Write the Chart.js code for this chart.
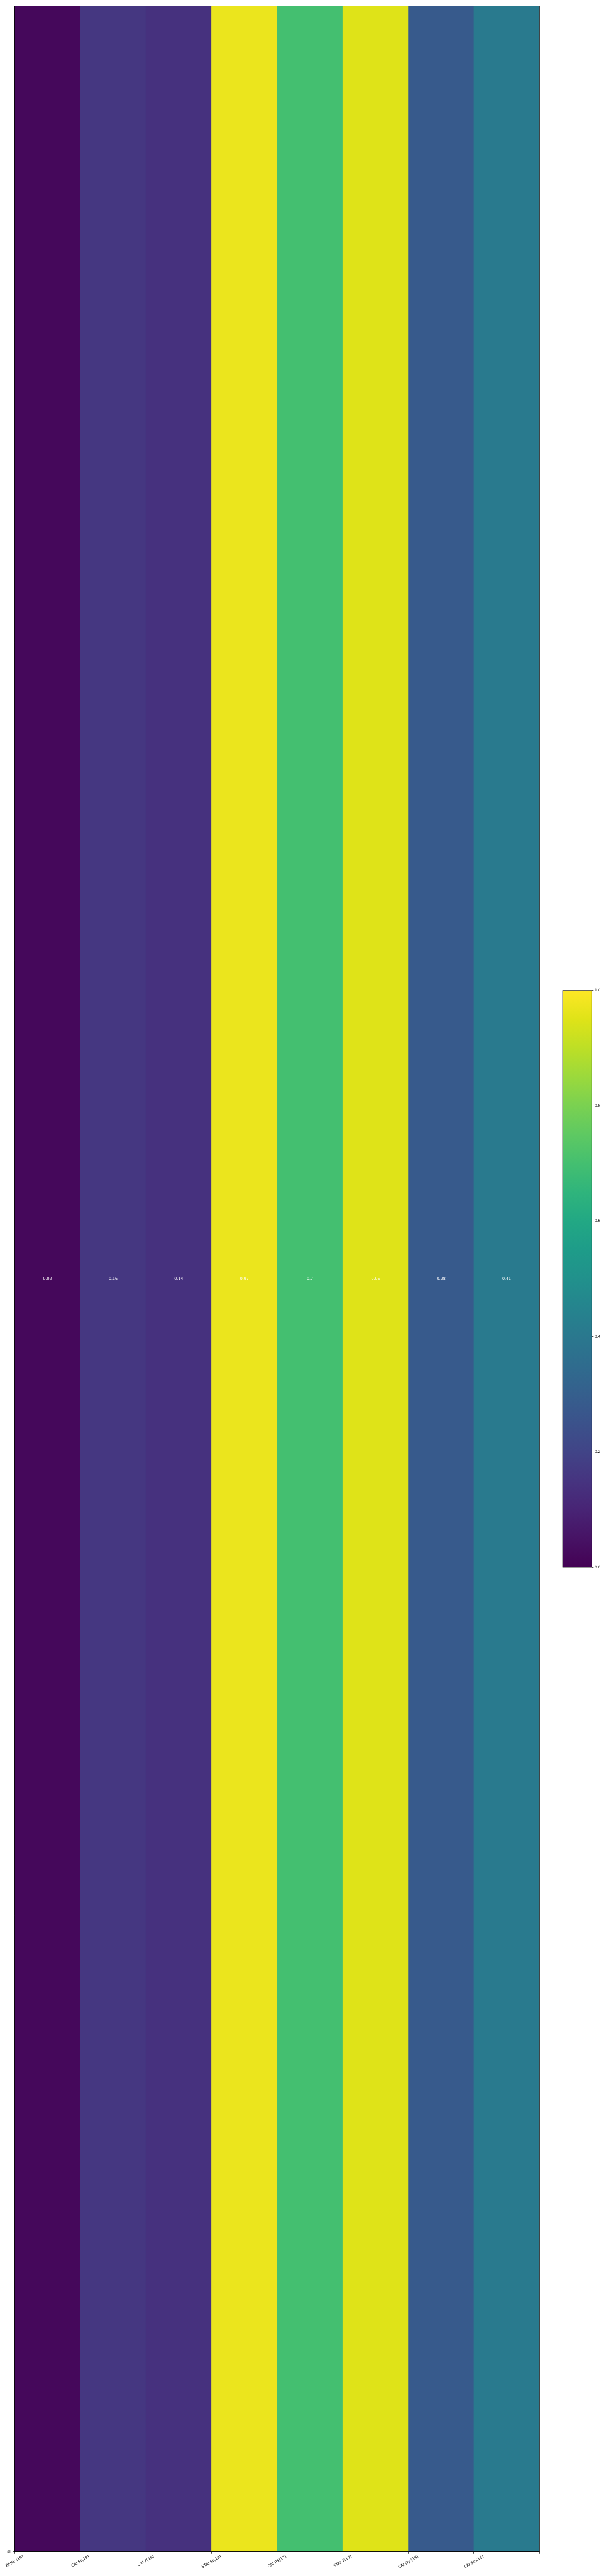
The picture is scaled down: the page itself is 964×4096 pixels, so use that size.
<!DOCTYPE html>
<html>
<head>
<meta charset="utf-8">
<script src="https://cdn.jsdelivr.net/npm/chart.js@4"></script>
<style>
  body { margin: 0; background: #fff; }
  #wrap { position: relative; width: 964px; height: 4096px; }
  #heat { position: absolute; left: 0; top: 0; }
  #cbar { position: absolute; left: 880px; top: 1560px; }
</style>
</head>
<body>
<div id="wrap">
  <canvas id="heat" width="964" height="4096"></canvas>
  <canvas id="cbar" width="84" height="950"></canvas>
</div>
<script>
// data
const xLabels = ['BFNE (19)', 'CAI St(19)', 'CAI F(18)', 'STAI St(18)', 'CAI PS(17)', 'STAI T(17)', 'CAI Dy (16)', 'CAI Sm(15)'];
const yLabels = ['all'];
const values = [0.02, 0.16, 0.14, 0.97, 0.7, 0.95, 0.28, 0.41];
const cbarTicks = [0, 0.2, 0.4, 0.6, 0.8, 1.0];

// viridis, every 0.05
const viridisStops = ['#440154', '#471365', '#482475', '#463480', '#414487', '#3b528b', '#355f8d',
  '#2f6c8e', '#2a788e', '#25848e', '#21918c', '#1e9c89', '#22a884', '#2fb47c', '#44bf70',
  '#5ec962', '#7ad151', '#9bd93c', '#bddf26', '#dfe318', '#fde725'];

function hexToRgb(h) {
  return [parseInt(h.slice(1, 3), 16), parseInt(h.slice(3, 5), 16), parseInt(h.slice(5, 7), 16)];
}
function viridis(t) {
  t = Math.min(1, Math.max(0, t));
  const n = viridisStops.length - 1;
  const i = Math.min(n - 1, Math.floor(t * n));
  const f = t * n - i;
  const a = hexToRgb(viridisStops[i]), b = hexToRgb(viridisStops[i + 1]);
  const c = a.map((v, k) => Math.round(v + (b[k] - v) * f));
  return `rgb(${c[0]},${c[1]},${c[2]})`;
}

const FONT = 6.3;
const fontSpec = { family: '"DejaVu Sans", sans-serif', size: FONT };

// black frame round the plot
const framePlugin = {
  id: 'frame',
  afterDatasetsDraw(chart) {
    const a = chart.chartArea, ctx = chart.ctx;
    ctx.save();
    ctx.strokeStyle = '#000';
    ctx.lineWidth = 0.8;
    ctx.strokeRect(a.left, a.top, a.right - a.left, a.bottom - a.top);
    ctx.restore();
  }
};

// value text in each cell
const cellTextPlugin = {
  id: 'cellText',
  afterDatasetsDraw(chart) {
    const ctx = chart.ctx;
    const meta = chart.getDatasetMeta(0);
    const y = chart.scales.y.getPixelForValue(0.5);
    ctx.save();
    ctx.font = `${FONT}px "DejaVu Sans", sans-serif`;
    ctx.fillStyle = '#fff';
    ctx.textAlign = 'center';
    ctx.textBaseline = 'middle';
    meta.data.forEach((el, i) => ctx.fillText(String(values[i]), el.x, y));
    ctx.restore();
  }
};

// x tick labels, rotated 30 deg and centred on the tick like matplotlib
const xLabelPlugin = {
  id: 'xLabels',
  afterDraw(chart) {
    const ctx = chart.ctx, xs = chart.scales.x, area = chart.chartArea;
    const ang = Math.PI / 6;
    ctx.save();
    ctx.font = `${FONT}px "DejaVu Sans", sans-serif`;
    ctx.fillStyle = '#000';
    ctx.textAlign = 'center';
    ctx.textBaseline = 'middle';
    xLabels.forEach((lab, i) => {
      const w = ctx.measureText(lab).width;
      const H = w * Math.sin(ang) + FONT * Math.cos(ang);
      ctx.save();
      ctx.translate(xs.getPixelForValue(i), area.bottom + 4.5 + H / 2);
      ctx.rotate(-ang);
      ctx.fillText(lab, 0, 0);
      ctx.restore();
    });
    ctx.restore();
  }
};

new Chart(document.getElementById('heat'), {
  type: 'bar',
  data: {
    datasets: [{
      data: values.map((v, i) => ({ x: i + 0.5, y: 1 })),
      backgroundColor: values.map(v => viridis(v)),
      borderWidth: 0,
      barPercentage: 1,
      categoryPercentage: 1
    }]
  },
  options: {
    responsive: false,
    animation: false,
    layout: { padding: { left: 0, top: 9.4, right: 105.7, bottom: 0 } },
    plugins: { legend: { display: false }, tooltip: { enabled: false } },
    scales: {
      x: {
        type: 'linear', min: 0, max: 8, offset: false,
        afterBuildTicks: s => { s.ticks = xLabels.concat(['']).map((l, i) => ({ value: i })); },
        ticks: { display: false, autoSkip: false },
        grid: { offset: false, drawOnChartArea: false, drawTicks: true, tickLength: 3.3, color: '#000', lineWidth: 0.7 },
        border: { display: true, color: '#000', width: 0.8 },
        afterFit: s => { s.height = 38.5; }
      },
      y: {
        type: 'linear', min: 0, max: 1,
        afterBuildTicks: s => { s.ticks = [{ value: 0 }]; },
        ticks: { callback: () => yLabels[0], font: fontSpec, color: '#000', padding: 1.6 },
        grid: { drawOnChartArea: false, drawTicks: true, tickLength: 3.3, color: '#000', lineWidth: 0.7 },
        border: { display: true, color: '#000', width: 0.8 },
        afterFit: s => { s.width = 23.4; }
      }
    }
  },
  plugins: [framePlugin, cellTextPlugin, xLabelPlugin]
});

// colour bar
new Chart(document.getElementById('cbar'), {
  type: 'bar',
  data: {
    labels: [''],
    datasets: [{
      data: [1],
      borderWidth: 0,
      barPercentage: 1,
      categoryPercentage: 1,
      backgroundColor: c => {
        const a = c.chart.chartArea;
        if (!a) return viridisStops[0];
        const g = c.chart.ctx.createLinearGradient(0, a.bottom, 0, a.top);
        viridisStops.forEach((col, i) => g.addColorStop(i / (viridisStops.length - 1), col));
        return g;
      }
    }]
  },
  options: {
    responsive: false,
    animation: false,
    layout: { padding: { left: 15.1, top: 14.8, bottom: 18, right: 0 } },
    plugins: { legend: { display: false }, tooltip: { enabled: false } },
    scales: {
      x: { display: false },
      y: {
        position: 'right', min: 0, max: 1,
        afterBuildTicks: s => { s.ticks = cbarTicks.map(v => ({ value: v })); },
        ticks: { callback: v => v.toFixed(1), font: { family: '"DejaVu Sans", sans-serif', size: 5.9 }, color: '#000', padding: 1.6 },
        grid: { drawOnChartArea: false, drawTicks: true, tickLength: 3, color: '#000', lineWidth: 0.7 },
        border: { display: true, color: '#000', width: 0.8 },
        afterFit: s => { s.width = 22.7; }
      }
    }
  },
  plugins: [framePlugin]
});
</script>
</body>
</html>
